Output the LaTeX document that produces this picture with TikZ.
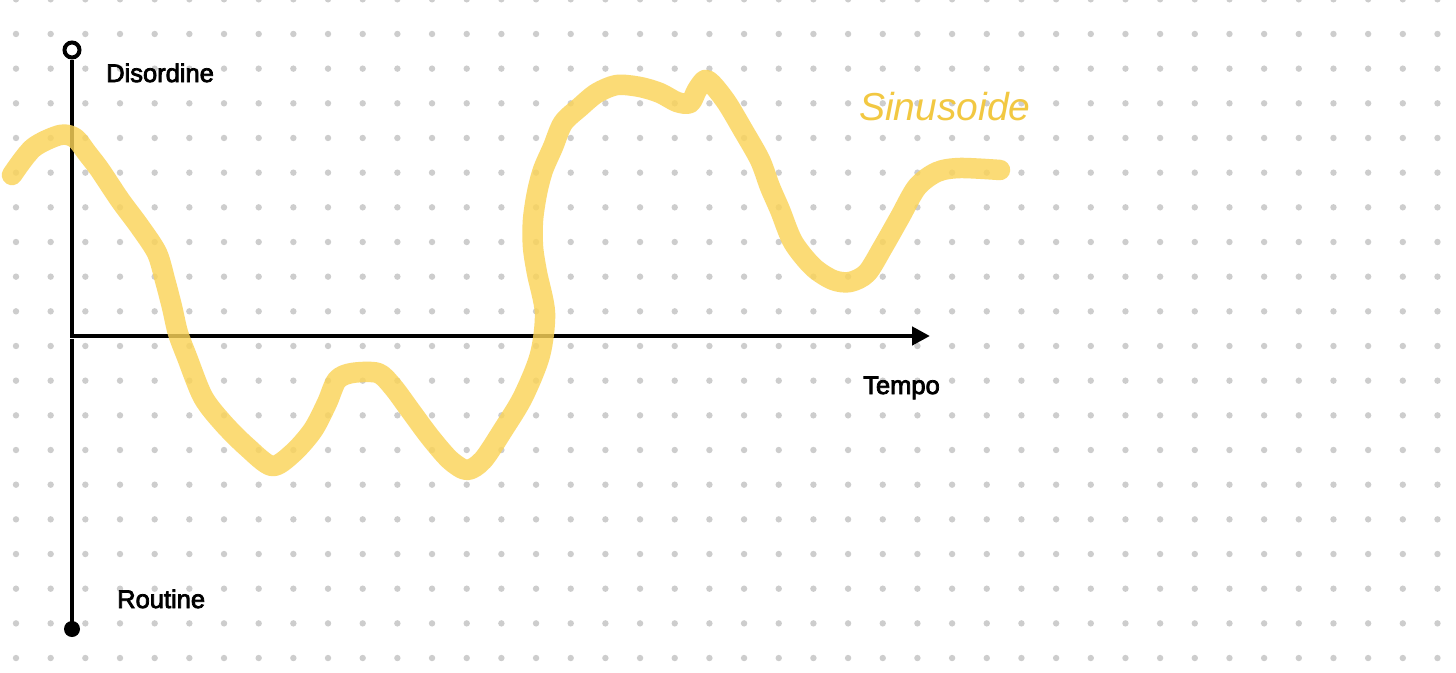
\documentclass[tikz,border=0pt]{standalone}
\usepackage{fontspec}
\setmainfont{Liberation Sans}
\newfontfamily\labelfont[FakeBold=3]{Liberation Sans}
\usetikzlibrary{arrows.meta}
\definecolor{gridgray}{RGB}{205,205,205}
\definecolor{marker}{RGB}{251,212,88}
\definecolor{labelyellow}{RGB}{242,200,66}
\tikzset{
  axisline/.style={line width=4.5pt,black},
  axislabel/.style={anchor=base west,inner sep=0pt,font=\labelfont\fontsize{25.5}{30}\selectfont},
  highlighter/.style={marker,line width=20.5pt,line cap=round,line join=round,opacity=0.82}
}

\begin{document}
\begin{tikzpicture}[x=1pt,y=-1pt,>=Stealth]
  \useasboundingbox[fill=white] (0,0) rectangle (1456,672);

  % dotted paper
  \foreach \i in {0,...,41}
    \foreach \j in {0,...,19}
      \fill[gridgray] ({16+34.67*\i},{-0.7+34.67*\j}) circle (3.2);

  \coordinate (origin) at (72,336);
  \coordinate (tEnd) at (930,336);
  \node[circle,draw,line width=4pt,fill=white,inner sep=0pt,minimum size=15pt] (disTop) at (72,50) {};
  \node[circle,fill=black,inner sep=0pt,minimum size=16pt] (rouBot) at (72,629) {};

  \draw[axisline,-{Triangle[length=18pt,width=18pt]}] (disTop.south) -- (origin) -- (tEnd);
  \draw[axisline] ([yshift=-3pt]origin) -- (rouBot.center);

  \node[axislabel] (disLbl) at (106,82) {Disordine};
  \node[axislabel] (rouLbl) at (117,608) {Routine};
  \node[axislabel] (tmpLbl) at (863,394) {Tempo};
  \node[anchor=base west,inner sep=0pt,labelyellow,font=\fontsize{39}{44}\selectfont\itshape] (sinLbl) at (859,120) {Sinusoide};

  % the wave
  \draw[highlighter] plot[smooth,tension=0.5] coordinates {
    (12,175) (33,148) (60,135) (75,138) (87,153) (100,170) (120,200) (140,227)
    (157,253) (165,280) (172,307) (178,333) (187,357) (203,397) (223,423) (247,447)
    (272,466) (293,453) (313,430) (327,403) (337,380) (352,373) (378,373) (393,387)
    (410,410) (430,437) (450,460) (467,470) (483,460) (503,430) (523,397) (540,355)
    (545,313) (537,273) (533,247) (533,220) (537,193) (543,170) (553,147) (563,123)
    (580,107) (597,93) (617,85) (640,87) (660,93) (677,102) (690,103) (697,90)
    (705,80) (713,85) (727,103) (743,130) (760,160) (770,187) (780,210) (793,242)
    (813,267) (833,280) (850,282) (867,273) (883,247) (900,217) (917,187) (937,172)
    (960,168) (1000,170)};
\end{tikzpicture}
\end{document}
